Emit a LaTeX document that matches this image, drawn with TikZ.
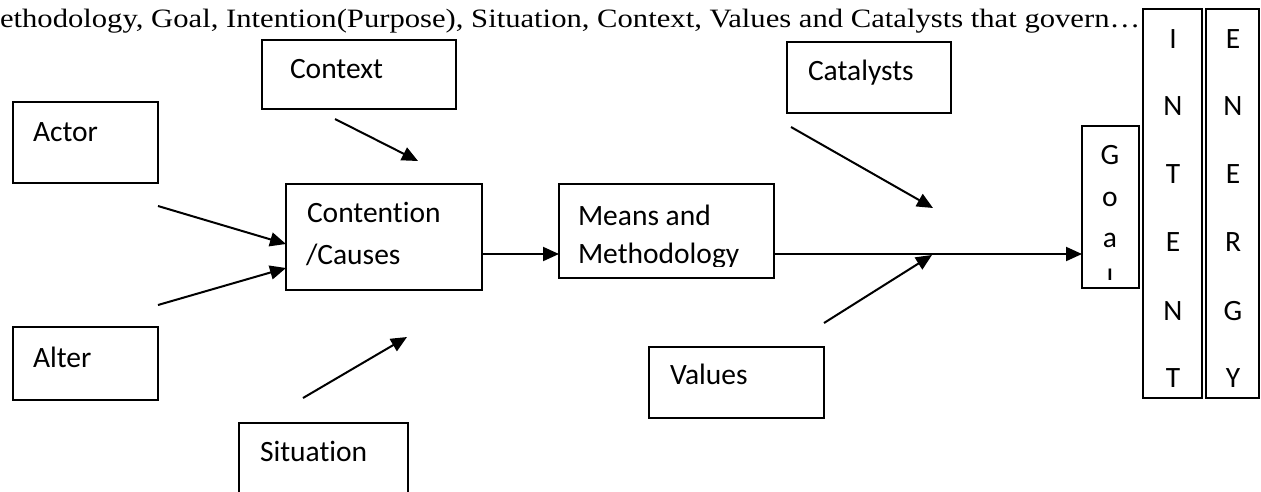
\documentclass[tikz,border=0pt]{standalone}
\usepackage{graphicx}
\usepackage{fontspec}
\setmainfont{Carlito}[Ligatures=NoCommon]
\newfontfamily\titlefont{Liberation Serif}
\usetikzlibrary{arrows.meta,calc}
\tikzset{
  bx/.style={draw=black, line width=1.9pt, inner sep=0pt, outer sep=0pt, anchor=north west},
  txt/.style={inner sep=0pt, outer sep=0pt, anchor=base west, font=\fontsize{29.5}{35}\selectfont},
  ltr/.style={inner sep=0pt, outer sep=0pt, anchor=base, font=\fontsize{29.5}{35}\selectfont},
  arr/.style={draw=black, line width=2pt, -{Triangle[length=16pt,width=14pt]}},
}
\begin{document}
\begin{tikzpicture}[x=1pt,y=-1pt]
\useasboundingbox (0,0) rectangle (1261,491);
\fill[white] (0,0) rectangle (1261,491);
\clip (0,0) rectangle (1261,491);

% title line
\node[inner sep=0pt, outer sep=0pt, anchor=base west] (title) at (0,27)
  {\resizebox{1140pt}{\height}{\titlefont\fontsize{26.5}{30}\selectfont ethodology, Goal, Intention(Purpose), Situation, Context, Values and Catalysts that govern…}};

% boxes
\node[bx, minimum width=145pt, minimum height=81pt] (actor) at (13,102) {};
\node[bx, minimum width=145pt, minimum height=73pt] (alter) at (13,327) {};
\node[bx, minimum width=194pt, minimum height=69pt] (context) at (262,40) {};
\node[bx, minimum width=196pt, minimum height=106pt] (cont) at (286,184) {};
\node[bx, minimum width=169pt, minimum height=80pt] (situation) at (239,423) {};
\node[bx, minimum width=215pt, minimum height=94pt] (means) at (559,184) {};
\node[bx, minimum width=164pt, minimum height=71pt] (catalysts) at (787,42) {};
\node[bx, minimum width=175pt, minimum height=71pt] (values) at (649,347) {};
\node[bx, minimum width=57pt, minimum height=162pt] (goal) at (1082,126) {};
\node[bx, minimum width=59pt, minimum height=389pt] (intent) at (1143,9) {};
\node[bx, minimum width=53pt, minimum height=389pt] (energy) at (1206,9) {};

% texts
\node[txt] (tactor) at (33,141) {Actor};
\node[txt] (talter) at (33,367) {Alter};
\node[txt] (tcontext) at (290,78) {Context};
\node[txt] (tcont1) at (307,222) {Contention};
\node[txt] (tcont2) at (306,264) {/Causes};
\node[txt] (tsit) at (260,461) {Situation};
\node[txt] (tcat) at (808,80) {Catalysts};
\node[txt] (tval) at (670,384) {Values};
\begin{scope}
  \clip (559,184) rectangle (774,266);
  \node[txt] (tmeans1) at (578,225) {Means and};
  \node[txt] (tmeans2) at (578,263) {Methodology};
\end{scope}
\begin{scope}
  \clip (1082,126) rectangle (1139,279);
  \node[ltr] (g1) at (1110,164) {G};
  \node[ltr] (g2) at (1110,206) {o};
  \node[ltr] (g3) at (1110,247) {a};
  \node[ltr] (g4) at (1110,289) {l};
\end{scope}
\foreach \c/\y [count=\i] in {I/48,N/115,T/183,E/251,N/320,T/387}
  \node[ltr] (in\i) at (1173,\y) {\c};
\foreach \c/\y [count=\i] in {E/48,N/115,E/183,R/251,G/320,Y/387}
  \node[ltr] (en\i) at (1233,\y) {\c};

% connectors
\coordinate (actorS) at (158,206);
\coordinate (alterS) at (158,305);
\coordinate (contextS) at (335,119);
\coordinate (contextE) at (418,161);
\coordinate (sitS) at (303,398);
\coordinate (sitE) at (407,337);
\coordinate (catS) at (791,127);
\coordinate (catE) at (933,208);
\coordinate (valS) at (824,323);
\coordinate (valE) at (932,255);
\coordinate (mainline) at (0,254);

\draw[arr] (actorS) -- (cont.north west |- 0,244);
\draw[arr] (alterS) -- (cont.north west |- 0,268);
\draw[arr] (contextS) -- (contextE);
\draw[arr] (sitS) -- (sitE);
\draw[arr] (cont.east |- mainline) -- (means.west |- mainline);
\draw[arr] (means.east |- mainline) -- (goal.west |- mainline);
\draw[arr] (catS) -- (catE);
\draw[arr] (valS) -- (valE);
\end{tikzpicture}
\end{document}
